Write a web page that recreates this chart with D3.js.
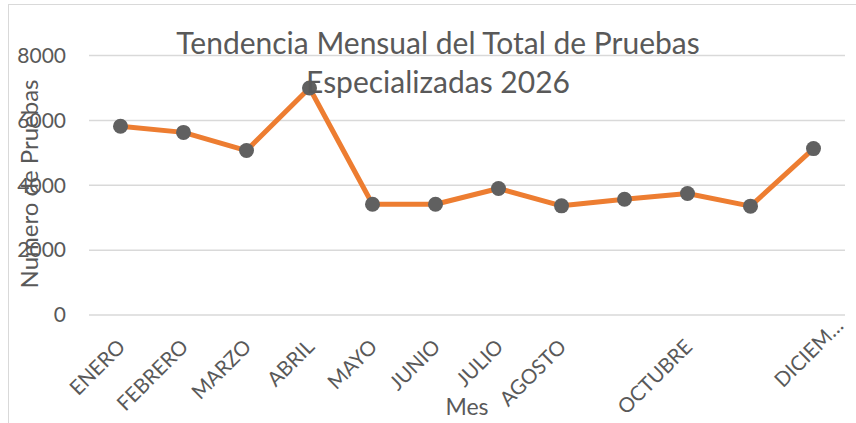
<!DOCTYPE html>
<html lang="es">
<head>
<meta charset="UTF-8">
<title>Tendencia Mensual del Total de Pruebas Especializadas 2026</title>
<script src="https://d3js.org/d3.v7.min.js"></script>
<style>
  body { margin: 0; background: #fff; }
  svg { display: block; font-family: Lato, 'Open Sans', sans-serif; }
</style>
</head>
<body>
<svg id="chart" width="856" height="423"></svg>
<script>
// data
var months = ["ENERO", "FEBRERO", "MARZO", "ABRIL", "MAYO", "JUNIO", "JULIO",
              "AGOSTO", "SEPTIEMBRE", "OCTUBRE", "NOVIEMBRE", "DICIEMBRE"];
var tickLabels = ["ENERO", "FEBRERO", "MARZO", "ABRIL", "MAYO", "JUNIO", "JULIO",
                  "AGOSTO", "", "OCTUBRE", "", "DICIEM\u2026"];
var totals = [5820, 5630, 5070, 7000, 3415, 3415, 3900, 3365, 3570, 3745, 3355, 5130];
var yTicks = [0, 2000, 4000, 6000, 8000];
var titleLines = ["Tendencia Mensual del Total de Pruebas", "Especializadas 2026"];

var svg = d3.select("#chart");
var textColor = "#595959";

// chart area border
svg.append("rect")
  .attr("x", 8.5).attr("y", 4.5).attr("width", 900).attr("height", 500)
  .attr("fill", "none").attr("stroke", "#d9d9d9").attr("stroke-width", 1);

var x = d3.scaleBand().domain(months).range([89, 845]);
var y = d3.scaleLinear().domain([0, 8000]).range([315, 55.5]);

// gridlines
svg.append("g").selectAll("line").data(yTicks).enter().append("line")
  .attr("x1", 89).attr("x2", 845)
  .attr("y1", d => y(d)).attr("y2", d => y(d))
  .attr("stroke", "#d9d9d9").attr("stroke-width", 1.5);

// y axis tick labels
svg.append("g").selectAll("text").data(yTicks).enter().append("text")
  .attr("x", 66).attr("y", d => y(d)).attr("dy", "0.35em")
  .attr("text-anchor", "end")
  .attr("font-size", 21).attr("fill", textColor)
  .text(d => d);

// x axis tick labels
svg.append("g").selectAll("text").data(months).enter().append("text")
  .attr("transform", function(d, i) {
    var cx = x(d) + x.bandwidth() / 2;
    var last = tickLabels[i].indexOf("\u2026") >= 0;
    return "translate(" + (cx + (last ? 26 : 1)) + "," + (last ? 322 : 343) + ") rotate(-45)";
  })
  .attr("text-anchor", "end")
  .attr("dy", "0.35em")
  .attr("font-size", 20.5).attr("fill", textColor)
  .text((d, i) => tickLabels[i]);

// line
var line = d3.line()
  .x((d, i) => x(months[i]) + x.bandwidth() / 2)
  .y(d => y(d));

svg.append("path").datum(totals)
  .attr("d", line)
  .attr("fill", "none").attr("stroke", "#ED7D31")
  .attr("stroke-width", 5).attr("stroke-linejoin", "round");

svg.append("g").selectAll("circle").data(totals).enter().append("circle")
  .attr("cx", (d, i) => x(months[i]) + x.bandwidth() / 2)
  .attr("cy", d => y(d))
  .attr("r", 7.5)
  .attr("fill", "#606060");

// title
svg.append("g").selectAll("text").data(titleLines).enter().append("text")
  .attr("x", 438).attr("y", (d, i) => 54 + i * 39)
  .attr("text-anchor", "middle")
  .attr("font-size", 30).attr("fill", textColor)
  .text(d => d);

// axis titles
svg.append("text")
  .attr("transform", "translate(38,184) rotate(-90)")
  .attr("text-anchor", "middle")
  .attr("font-size", 24).attr("fill", textColor)
  .text("Numero de Pruebas");

svg.append("text")
  .attr("x", 467).attr("y", 415)
  .attr("text-anchor", "middle")
  .attr("font-size", 23).attr("fill", textColor)
  .text("Mes");
</script>
</body>
</html>
